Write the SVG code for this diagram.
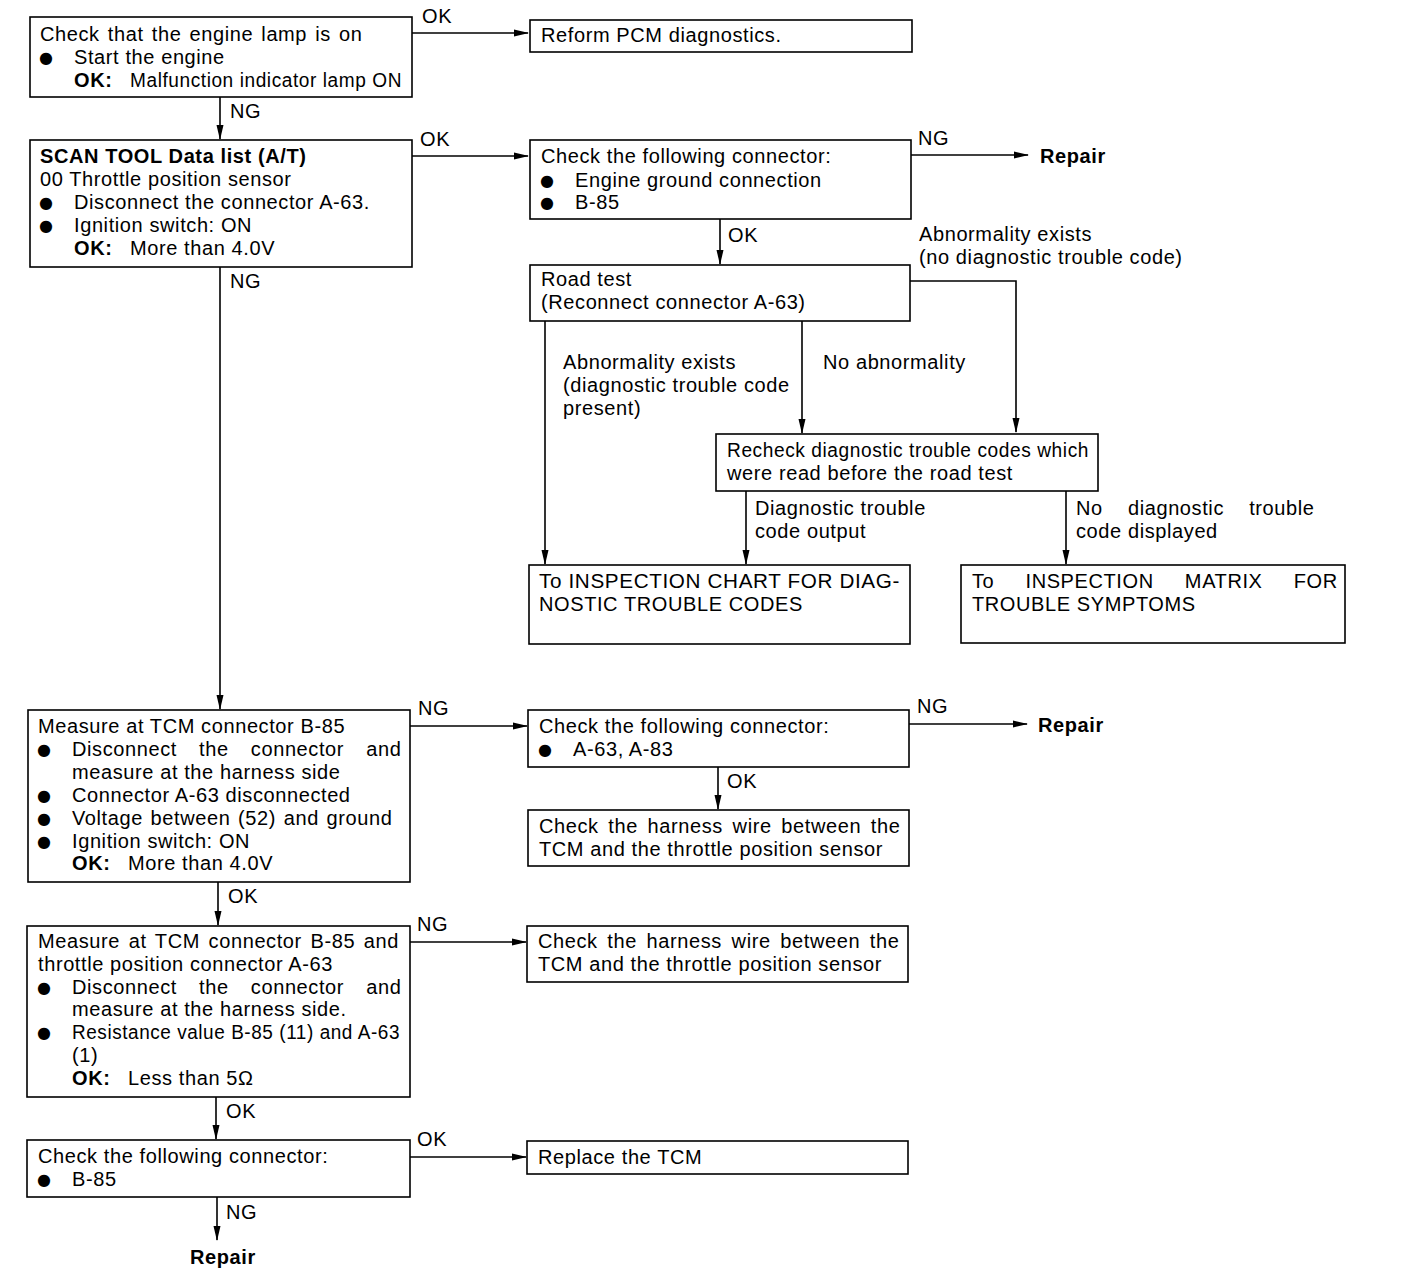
<svg xmlns="http://www.w3.org/2000/svg" width="1408" height="1284" viewBox="0 0 1408 1284">
<style>
text{font-family:"Liberation Sans",Arial,sans-serif;font-size:20px;letter-spacing:0.6px;fill:#000}
.b{font-weight:bold}
.u{font-family:"DejaVu Sans",sans-serif;font-size:16px;letter-spacing:0}
rect{fill:#fff;stroke:#000;stroke-width:1.6}
.c line,.c polyline{stroke:#000;stroke-width:1.6;fill:none}
</style>
<defs>
<marker id="ah" markerWidth="15" markerHeight="9" refX="14" refY="4.5" orient="auto" markerUnits="userSpaceOnUse">
<path d="M0,1 L15,4.5 L0,8 Z" fill="#000"/>
</marker>
</defs>
<rect width="1408" height="1284" style="fill:#fff;stroke:none"/>

<g id="connectors" class="c">
<line x1="412" y1="33" x2="528" y2="33" marker-end="url(#ah)"/>
<line x1="220" y1="97" x2="220" y2="139" marker-end="url(#ah)"/>
<line x1="412" y1="156" x2="528" y2="156" marker-end="url(#ah)"/>
<line x1="911" y1="155" x2="1028" y2="155" marker-end="url(#ah)"/>
<line x1="720" y1="219" x2="720" y2="264" marker-end="url(#ah)"/>
<polyline points="910,281 1016,281 1016,432" marker-end="url(#ah)"/>
<line x1="545" y1="321" x2="545" y2="564" marker-end="url(#ah)"/>
<line x1="802" y1="321" x2="802" y2="433" marker-end="url(#ah)"/>
<line x1="746" y1="491" x2="746" y2="564" marker-end="url(#ah)"/>
<line x1="1066" y1="491" x2="1066" y2="564" marker-end="url(#ah)"/>
<line x1="220" y1="267" x2="220" y2="709" marker-end="url(#ah)"/>
<line x1="410" y1="726" x2="527" y2="726" marker-end="url(#ah)"/>
<line x1="909" y1="724" x2="1027" y2="724" marker-end="url(#ah)"/>
<line x1="718" y1="767" x2="718" y2="809" marker-end="url(#ah)"/>
<line x1="218" y1="882" x2="218" y2="925" marker-end="url(#ah)"/>
<line x1="410" y1="942" x2="526" y2="942" marker-end="url(#ah)"/>
<line x1="216" y1="1097" x2="216" y2="1139" marker-end="url(#ah)"/>
<line x1="410" y1="1157" x2="526" y2="1157" marker-end="url(#ah)"/>
<line x1="217" y1="1197" x2="217" y2="1240" marker-end="url(#ah)"/>
</g>

<g id="labels">
<text x="422" y="23">OK</text>
<text x="230" y="118">NG</text>
<text x="420" y="146">OK</text>
<text x="918" y="145">NG</text>
<text x="728" y="242">OK</text>
<text x="919" y="241">Abnormality exists</text>
<text x="919" y="264">(no diagnostic trouble code)</text>
<text x="563" y="369">Abnormality exists</text>
<text x="563" y="392">(diagnostic trouble code</text>
<text x="563" y="415">present)</text>
<text x="823" y="369">No abnormality</text>
<text x="755" y="515">Diagnostic trouble</text>
<text x="755" y="538">code output</text>
<text x="1076" y="515" word-spacing="19">No diagnostic trouble</text>
<text x="1076" y="538">code displayed</text>
<text x="230" y="288">NG</text>
<text x="418" y="715">NG</text>
<text x="917" y="713">NG</text>
<text x="727" y="788">OK</text>
<text x="228" y="903">OK</text>
<text x="417" y="931">NG</text>
<text x="226" y="1118">OK</text>
<text x="417" y="1146">OK</text>
<text x="226" y="1219">NG</text>
</g>

<g id="n1">
<rect x="30" y="17" width="382" height="80"/>
<text x="40" y="41" word-spacing="2">Check that the engine lamp is on</text>
<text x="39" y="63" class="u">●</text><text x="74" y="64">Start the engine</text>
<text x="74" y="87" class="b">OK:</text><text x="130" y="87" textLength="272" lengthAdjust="spacingAndGlyphs">Malfunction indicator lamp ON</text>
</g>
<g id="n2">
<rect x="530" y="20" width="382" height="32"/>
<text x="541" y="42">Reform PCM diagnostics.</text>
</g>
<g id="n3">
<rect x="30" y="140" width="382" height="127"/>
<text x="40" y="163" class="b">SCAN TOOL Data list (A/T)</text>
<text x="40" y="186">00 Throttle position sensor</text>
<text x="39" y="208" class="u">●</text><text x="74" y="209">Disconnect the connector A-63.</text>
<text x="39" y="231" class="u">●</text><text x="74" y="232">Ignition switch: ON</text>
<text x="74" y="255" class="b">OK:</text><text x="130" y="255">More than 4.0V</text>
</g>
<g id="n4">
<rect x="530" y="140" width="381" height="79"/>
<text x="541" y="163">Check the following connector:</text>
<text x="540" y="186" class="u">●</text><text x="575" y="187">Engine ground connection</text>
<text x="540" y="208" class="u">●</text><text x="575" y="209">B-85</text>
</g>
<g id="n5">
<text x="1040" y="163" class="b">Repair</text>
</g>
<g id="n6">
<rect x="530" y="265" width="380" height="56"/>
<text x="541" y="286">Road test</text>
<text x="541" y="309">(Reconnect connector A-63)</text>
</g>
<g id="n7">
<rect x="716" y="434" width="382" height="57"/>
<text x="727" y="457" textLength="362" lengthAdjust="spacingAndGlyphs">Recheck diagnostic trouble codes which</text>
<text x="727" y="480">were read before the road test</text>
</g>
<g id="n8">
<rect x="529" y="565" width="381" height="79"/>
<text x="539" y="588" textLength="361" lengthAdjust="spacingAndGlyphs">To INSPECTION CHART FOR DIAG-</text>
<text x="539" y="611">NOSTIC TROUBLE CODES</text>
</g>
<g id="n9">
<rect x="961" y="565" width="384" height="78"/>
<text x="972" y="588" word-spacing="25">To INSPECTION MATRIX FOR</text>
<text x="972" y="611">TROUBLE SYMPTOMS</text>
</g>
<g id="n10">
<rect x="28" y="710" width="382" height="172"/>
<text x="38" y="733">Measure at TCM connector B-85</text>
<text x="37" y="755" class="u">●</text><text x="72" y="756" word-spacing="16">Disconnect the connector and</text>
<text x="72" y="779">measure at the harness side</text>
<text x="37" y="801" class="u">●</text><text x="72" y="802">Connector A-63 disconnected</text>
<text x="37" y="824" class="u">●</text><text x="72" y="825" word-spacing="1.5">Voltage between (52) and ground</text>
<text x="37" y="847" class="u">●</text><text x="72" y="848">Ignition switch: ON</text>
<text x="72" y="870" class="b">OK:</text><text x="128" y="870">More than 4.0V</text>
</g>
<g id="n11">
<rect x="528" y="710" width="381" height="57"/>
<text x="539" y="733">Check the following connector:</text>
<text x="538" y="755" class="u">●</text><text x="573" y="756">A-63, A-83</text>
</g>
<g id="n12">
<text x="1038" y="732" class="b">Repair</text>
</g>
<g id="n13">
<rect x="528" y="810" width="381" height="56"/>
<text x="539" y="833" word-spacing="3.5">Check the harness wire between the</text>
<text x="539" y="856">TCM and the throttle position sensor</text>
</g>
<g id="n14">
<rect x="27" y="926" width="383" height="171"/>
<text x="38" y="948" word-spacing="2.5">Measure at TCM connector B-85 and</text>
<text x="38" y="971">throttle position connector A-63</text>
<text x="37" y="993" class="u">●</text><text x="72" y="994" word-spacing="16">Disconnect the connector and</text>
<text x="72" y="1016">measure at the harness side.</text>
<text x="37" y="1038" class="u">●</text><text x="72" y="1039" textLength="328" lengthAdjust="spacingAndGlyphs">Resistance value B-85 (11) and A-63</text>
<text x="72" y="1062">(1)</text>
<text x="72" y="1085" class="b">OK:</text><text x="128" y="1085">Less than 5Ω</text>
</g>
<g id="n15">
<rect x="527" y="926" width="381" height="56"/>
<text x="538" y="948" word-spacing="3.5">Check the harness wire between the</text>
<text x="538" y="971">TCM and the throttle position sensor</text>
</g>
<g id="n16">
<rect x="27" y="1140" width="383" height="57"/>
<text x="38" y="1163">Check the following connector:</text>
<text x="37" y="1185" class="u">●</text><text x="72" y="1186">B-85</text>
</g>
<g id="n17">
<rect x="527" y="1141" width="381" height="33"/>
<text x="538" y="1164">Replace the TCM</text>
</g>
<g id="n18">
<text x="190" y="1264" class="b">Repair</text>
</g>
</svg>
